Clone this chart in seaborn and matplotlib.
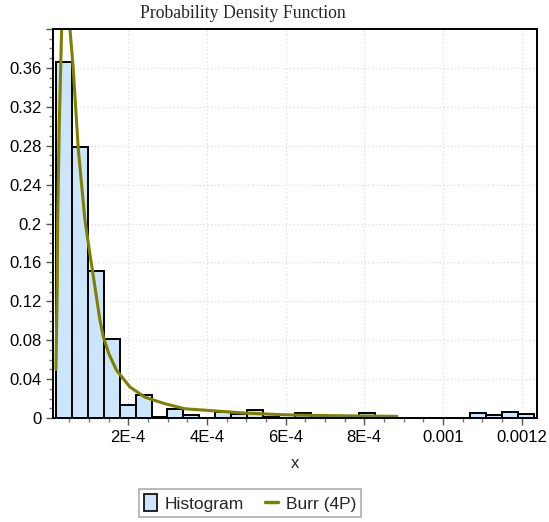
import numpy as np
import pandas as pd
import matplotlib
matplotlib.use("Agg")
import matplotlib.pyplot as plt
from matplotlib.patches import Patch
from matplotlib.lines import Line2D
from matplotlib.ticker import MultipleLocator, FuncFormatter
import seaborn as sns

sns.set_theme(style="ticks")
plt.rcParams['font.family'] = ['Liberation Sans', 'DejaVu Sans']

# histogram: relative frequency per bin (30 equal bins)
bin_start = 1.63e-5
bin_width = 4.05e-5
rel_freq = [0.366, 0.279, 0.1515, 0.0817, 0.013, 0.0235, 0.0015, 0.0097, 0.003, 0.0,
            0.0067, 0.004, 0.0085, 0.0015, 0.0, 0.0055, 0.0, 0.0, 0.0, 0.0055,
            0.0, 0.0, 0.0, 0.0, 0.0, 0.0, 0.0055, 0.0027, 0.0068, 0.004]

# fitted Burr (4P) curve
curve_x = [1.63e-5, 1.96e-5, 2.06e-5, 2.47e-5, 3.08e-5, 4.2e-5, 5.19e-5, 6.02e-5, 7.30e-5,
           9.0e-5, 1.027e-4, 1.154e-4, 1.281e-4, 1.365e-4, 1.51e-4, 1.706e-4, 2.044e-4,
           2.425e-4, 2.933e-4, 3.442e-4, 4.078e-4, 4.916e-4, 5.857e-4, 6.365e-4,
           7.636e-4, 8.83e-4]
curve_y = [0.05, 0.135, 0.20, 0.30, 0.40, 0.425, 0.40, 0.36, 0.277,
           0.2036, 0.1687, 0.135, 0.101, 0.084, 0.066, 0.049, 0.032,
           0.0215, 0.0148, 0.0096, 0.0078, 0.0053, 0.0036, 0.003,
           0.0023, 0.0018]

nbins = len(rel_freq)
bin_end = bin_start + bin_width * nbins
hist_df = pd.DataFrame({"x": bin_start + bin_width * (np.arange(nbins) + 0.5), "w": rel_freq})
curve_df = pd.DataFrame({"x": curve_x, "y": curve_y})

fig = plt.figure(figsize=(5.49, 5.22), dpi=100)
ax = fig.add_axes([0.097, 0.199, 0.881, 0.7456])

sns.histplot(data=hist_df, x="x", weights="w", bins=nbins, binrange=(bin_start, bin_end),
             stat="count", color="#cce5fb", alpha=1, edgecolor="black", linewidth=1.4, ax=ax)
sns.lineplot(data=curve_df, x="x", y="y", color="#808000", linewidth=2.2, ax=ax)

ax.set_xlim(9.5e-6, 1.239e-3)
ax.set_ylim(0, 0.40)
ax.yaxis.set_major_locator(MultipleLocator(0.04))
ax.yaxis.set_minor_locator(MultipleLocator(0.01))
ax.xaxis.set_major_locator(MultipleLocator(2e-4))
ax.xaxis.set_minor_locator(MultipleLocator(5e-5))

xlab = {2: "2E-4", 4: "4E-4", 6: "6E-4", 8: "8E-4", 10: "0.001", 12: "0.0012"}
ax.xaxis.set_major_formatter(FuncFormatter(lambda v, p: xlab.get(int(round(v * 1e4)), "")))


def ylab(v, p):
    if abs(v) < 1e-9:
        return "0"
    if v > 0.39:
        return ""
    return ("%.2f" % v).rstrip("0")


ax.yaxis.set_major_formatter(FuncFormatter(ylab))

ax.grid(True, which="major", color="#dddddd", linestyle=(0, (1, 2)), linewidth=0.9)
ax.set_axisbelow(True)
for s in ax.spines.values():
    s.set_color("black")
    s.set_linewidth(1.4)
ax.tick_params(which="major", length=5, width=1, color="#555555", labelsize=12, labelcolor="black")
ax.tick_params(which="minor", length=3, width=1, color="#777777")
ax.set_ylabel("")
ax.set_xlabel("x", fontsize=12, labelpad=8)

fig.text(0.443, 0.975, "Probability Density Function", ha="center", va="center",
         fontsize=12.8, family=["Liberation Serif", "DejaVu Serif"])

handles = [Patch(facecolor="#cce5fb", edgecolor="black", linewidth=1.2),
           Line2D([0], [0], color="#808000", linewidth=2.5)]
leg = fig.legend(handles, ["Histogram", "Burr (4P)"], loc="center",
                 bbox_to_anchor=(250 / 549, 1 - 503 / 522), ncol=2, fontsize=12.5,
                 frameon=True, fancybox=False, handlelength=0.75, handleheight=1.1,
                 handletextpad=0.45, columnspacing=1.2, borderpad=0.3, borderaxespad=0)
leg.get_frame().set_edgecolor("#999999")
leg.get_frame().set_linewidth(1.2)

fig.savefig("out.png", dpi=100)
